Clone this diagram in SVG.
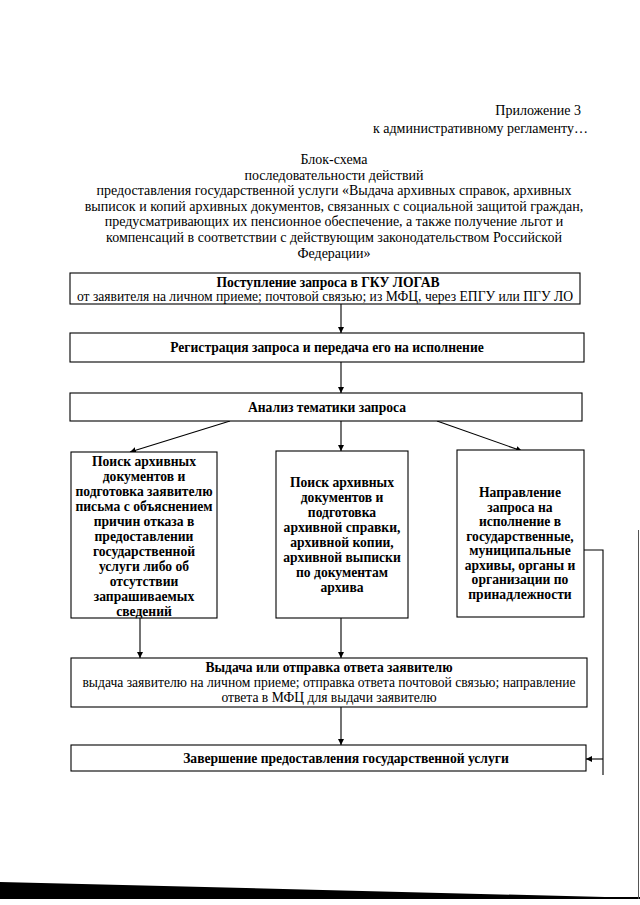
<svg xmlns="http://www.w3.org/2000/svg" width="640" height="905" viewBox="0 0 640 905">
<style>
text{font-family:"Liberation Serif","Times New Roman",serif;fill:#000}
.h{font-size:14px}
.t{font-size:14px;text-anchor:middle}
.b{font-size:13.6px;font-weight:bold;text-anchor:middle}
.r{font-size:13.6px;text-anchor:middle}
.box{fill:#fff;stroke:#000;stroke-width:1.1}
.ln{fill:none;stroke:#000;stroke-width:1.1}
</style>
<defs>
<marker id="ah" viewBox="0 0 10 10" refX="10" refY="5" markerWidth="6" markerHeight="6" markerUnits="userSpaceOnUse" orient="auto">
<path d="M0,0 L10,5 L0,10 z" fill="#000"/>
</marker>
</defs>
<rect width="640" height="905" fill="#fff"/>
<g id="header">
<text class="h" x="581" y="115" text-anchor="end">Приложение 3</text>
<text class="h" x="588" y="133" text-anchor="end">к административному регламенту…</text>
<text class="t" x="334" y="164">Блок-схема</text>
<text class="t" x="334" y="180">последовательности действий</text>
<text class="t" x="334" y="195">предоставления государственной услуги «Выдача архивных справок, архивных</text>
<text class="t" x="334" y="211">выписок и копий архивных документов, связанных с социальной защитой граждан,</text>
<text class="t" x="334" y="226">предусматривающих их пенсионное обеспечение, а также получение льгот и</text>
<text class="t" x="334" y="242">компенсаций в соответствии с действующим законодательством Российской</text>
<text class="t" x="334" y="258">Федерации»</text>
</g>
<g id="connectors">
<line class="ln" x1="341" y1="304" x2="341" y2="333" marker-end="url(#ah)"/>
<line class="ln" x1="341" y1="362" x2="341" y2="393" marker-end="url(#ah)"/>
<line class="ln" x1="230" y1="421" x2="130" y2="452" marker-end="url(#ah)"/>
<line class="ln" x1="341" y1="421" x2="341" y2="451" marker-end="url(#ah)"/>
<line class="ln" x1="437" y1="421" x2="522" y2="451" marker-end="url(#ah)"/>
<line class="ln" x1="140" y1="618" x2="140" y2="658" marker-end="url(#ah)"/>
<line class="ln" x1="341" y1="618" x2="341" y2="658" marker-end="url(#ah)"/>
<line class="ln" x1="341" y1="707" x2="341" y2="745" marker-end="url(#ah)"/>
<polyline class="ln" points="584,550 603,550 603,775"/>
<line class="ln" x1="603" y1="759" x2="586" y2="759" marker-end="url(#ah)"/>
</g>
<g id="n1">
<rect class="box" x="70" y="273" width="510" height="31"/>
<text class="b" x="328" y="287">Поступление запроса в ГКУ ЛОГАВ</text>
<text class="r" x="325" y="301">от заявителя на личном приеме; почтовой связью; из МФЦ, через ЕПГУ или ПГУ ЛО</text>
</g>
<g id="n2">
<rect class="box" x="70" y="333" width="514" height="29"/>
<text class="b" x="327" y="352">Регистрация запроса и передача его на исполнение</text>
</g>
<g id="n3">
<rect class="box" x="70" y="393" width="512" height="28"/>
<text class="b" x="327" y="412">Анализ тематики запроса</text>
</g>
<g id="n4">
<rect class="box" x="71" y="452" width="146" height="166"/>
<text class="b" x="144" y="466">Поиск архивных</text>
<text class="b" x="144" y="481">документов и</text>
<text class="b" x="144" y="496">подготовка заявителю</text>
<text class="b" x="144" y="511">письма с объяснением</text>
<text class="b" x="144" y="526">причин отказа в</text>
<text class="b" x="144" y="541">предоставлении</text>
<text class="b" x="144" y="556">государственной</text>
<text class="b" x="144" y="571">услуги либо об</text>
<text class="b" x="144" y="586">отсутствии</text>
<text class="b" x="144" y="601">запрашиваемых</text>
<text class="b" x="144" y="616">сведений</text>
</g>
<g id="n5">
<rect class="box" x="276" y="451" width="132" height="167"/>
<text class="b" x="342" y="487">Поиск архивных</text>
<text class="b" x="342" y="502">документов и</text>
<text class="b" x="342" y="517">подготовка</text>
<text class="b" x="342" y="532">архивной справки,</text>
<text class="b" x="342" y="547">архивной копии,</text>
<text class="b" x="342" y="562">архивной выписки</text>
<text class="b" x="342" y="577">по документам</text>
<text class="b" x="342" y="592">архива</text>
</g>
<g id="n6">
<rect class="box" x="457" y="450" width="127" height="167"/>
<text class="b" x="520" y="497">Направление</text>
<text class="b" x="520" y="512">запроса на</text>
<text class="b" x="520" y="526">исполнение в</text>
<text class="b" x="520" y="541">государственные,</text>
<text class="b" x="520" y="555">муниципальные</text>
<text class="b" x="520" y="570">архивы, органы и</text>
<text class="b" x="520" y="584">организации по</text>
<text class="b" x="520" y="599">принадлежности</text>
</g>
<g id="n7">
<rect class="box" x="71" y="658" width="516" height="49"/>
<text class="b" x="329" y="672">Выдача или отправка ответа заявителю</text>
<text class="r" x="329" y="687">выдача заявителю на личном приеме; отправка ответа почтовой связью; направление</text>
<text class="r" x="329" y="702">ответа в МФЦ для выдачи заявителю</text>
</g>
<g id="n8">
<rect class="box" x="71" y="745" width="515" height="26"/>
<text class="b" x="346" y="763">Завершение предоставления государственной услуги</text>
</g>
<g id="scan">
<polygon points="0,882 605,897 640,897 640,899 0,899" fill="#000"/>
<line x1="638.5" y1="530" x2="638.5" y2="899" stroke="#555" stroke-width="1"/>
</g>
</svg>
